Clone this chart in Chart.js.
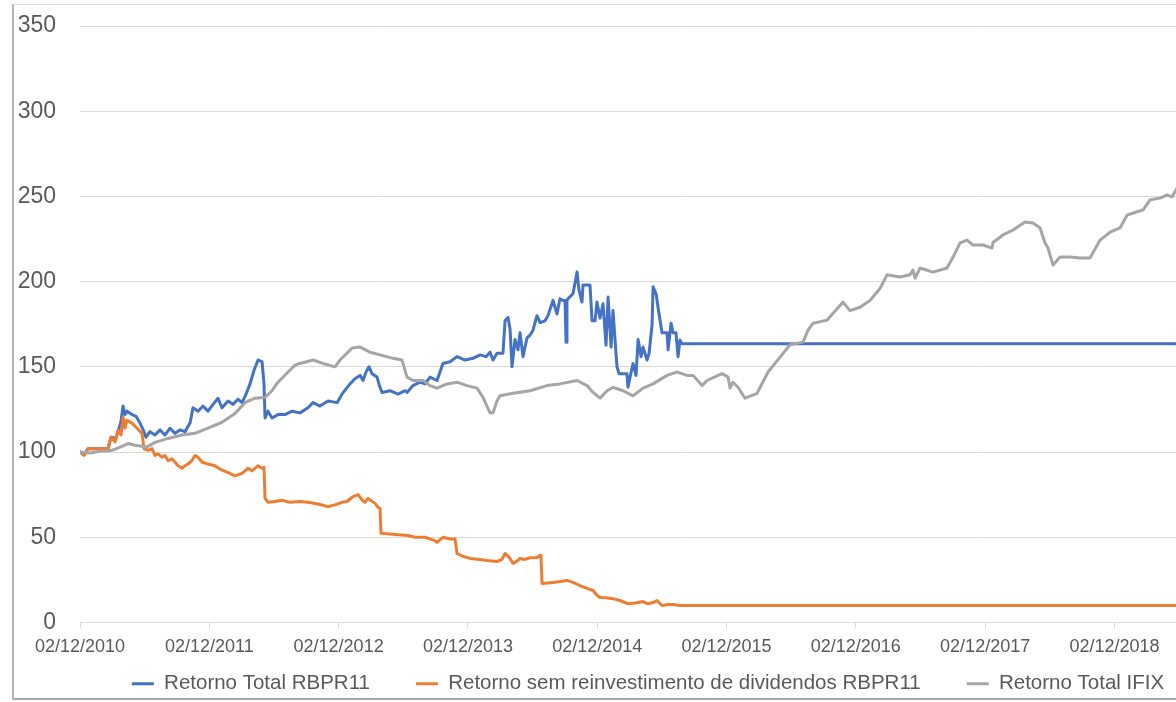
<!DOCTYPE html>
<html lang="pt-BR">
<head>
<meta charset="utf-8">
<title>Retorno RBPR11 x IFIX</title>
<script src="https://cdn.jsdelivr.net/npm/chart.js@4.4.1/dist/chart.umd.min.js"></script>
<style>
    html, body { margin: 0; padding: 0; background: #fff; overflow: hidden; }
    body { width: 1176px; height: 702px; position: relative; }
    #moldura {
        position: absolute; left: 12px; top: 4px; width: 1300px; height: 693px;
        border-left: 2px solid #b4b4b4; border-top: 1px solid #dcdcdc; border-bottom: 2px solid #a8a8a8;
    }
    #grafico { position: absolute; left: 15px; top: 5px; }
</style>
</head>
<body>
<div id="moldura"></div>
<canvas id="grafico" width="1266" height="734"></canvas>
<script>
// rótulos do eixo X (um por ano, a partir de 02/12/2010)
const rotulosX = ['02/12/2010', '02/12/2011', '02/12/2012', '02/12/2013', '02/12/2014',
    '02/12/2015', '02/12/2016', '02/12/2017', '02/12/2018'];

// tempo em anos desde 02/12/2010
const tempoRbpr = [0, .031, .062, .217, .240, .278, .294, .317, .333, .348,
    .363, .402, .433, .464, .495, .510, .541, .580, .619, .657,
    .696, .735, .773, .812, .851, .874, .913, .951, .990, 1.029,
    1.067, 1.098, 1.145, 1.183, 1.222, 1.253, 1.284, 1.315, 1.346, 1.377,
    1.408, 1.423, 1.431, 1.454, 1.485, 1.531, 1.585, 1.640, 1.701, 1.763,
    1.802, 1.856, 1.918, 1.988, 2.026, 2.088, 2.127, 2.166, 2.189, 2.212,
    2.235, 2.258, 2.297, 2.320, 2.336, 2.398, 2.459, 2.514, 2.529, 2.575,
    2.630, 2.668, 2.707, 2.761, 2.807, 2.862, 2.916, 2.978, 3.039, 3.094,
    3.140, 3.171, 3.194, 3.225, 3.271, 3.287, 3.310, 3.326, 3.341, 3.364,
    3.387, 3.403, 3.426, 3.457, 3.480, 3.503, 3.534, 3.558, 3.596, 3.619,
    3.658, 3.689, 3.712, 3.735, 3.751, 3.759, 3.766, 3.774, 3.813, 3.844,
    3.859, 3.882, 3.890, 3.944, 3.960, 3.983, 3.998, 4.022, 4.045, 4.068,
    4.084, 4.107, 4.122, 4.138, 4.153, 4.169, 4.230, 4.238, 4.254, 4.277,
    4.300, 4.316, 4.339, 4.354, 4.385, 4.401, 4.424, 4.432, 4.455, 4.470,
    4.501, 4.540, 4.548, 4.571, 4.586, 4.609, 4.625, 4.640, 4.656, 8.5];
const retornoTotalRbpr = [100, 98.5, 102, 102, 108.7, 108, 112, 118, 127, 122,
    124, 122, 121, 117, 112, 108.7, 112, 110, 113, 110,
    114, 111, 113, 112, 117, 126, 124, 127, 124, 128,
    131.6, 126, 130, 128, 131, 129, 134, 140, 148, 154,
    153, 140, 120, 124, 120, 122, 122, 124, 123, 126,
    129, 127, 130, 129, 134, 140, 143, 145, 142, 147,
    150, 146, 144, 138, 135, 136, 134, 136, 135, 139,
    141, 140, 144, 142, 152, 153, 156, 154, 155, 157,
    156, 158.6, 154, 158, 158, 177, 179, 172, 150, 166,
    160, 170, 156, 167, 168.6, 171.5, 180, 176, 177, 180,
    189, 181, 190, 189, 189, 164.5, 189, 190, 193, 205.6,
    195, 188, 198, 198, 177, 177, 188, 178.6, 187, 162.7,
    191, 161.6, 183, 165.7, 150, 146, 146, 138, 144, 152,
    145, 166, 156, 161.6, 154, 158, 174.5, 197, 193, 185,
    170, 170, 160, 175.6, 170, 170, 156, 165.7, 163.5, 163.5];

const tempoSemReinv = [0, .031, .062, .217, .240, .271, .294, .317, .333, .348,
    .363, .402, .441, .480, .495, .526, .557, .580, .603, .634,
    .657, .681, .712, .735, .758, .789, .812, .835, .866, .889,
    .913, .944, .990, 1.044, 1.083, 1.145, 1.199, 1.253, 1.276, 1.299,
    1.330, 1.377, 1.408, 1.423, 1.431, 1.454, 1.508, 1.562, 1.624, 1.701,
    1.763, 1.841, 1.918, 1.972, 2.026, 2.065, 2.104, 2.150, 2.181, 2.204,
    2.227, 2.282, 2.305, 2.320, 2.328, 2.436, 2.537, 2.591, 2.668, 2.746,
    2.761, 2.807, 2.862, 2.900, 2.916, 2.954, 3.016, 3.094, 3.148, 3.225,
    3.264, 3.287, 3.310, 3.326, 3.349, 3.380, 3.403, 3.442, 3.480, 3.534,
    3.558, 3.565, 3.573, 3.658, 3.712, 3.766, 3.813, 3.867, 3.921, 3.968,
    3.998, 4.022, 4.068, 4.122, 4.176, 4.238, 4.292, 4.354, 4.393, 4.432,
    4.462, 4.501, 4.548, 4.586, 4.640, 8.5];
const retornoSemReinv = [100, 98, 102, 102, 108.7, 106, 112.8, 110, 120.4, 114,
    118.7, 117, 114, 111, 102, 101, 102, 98, 99, 97,
    98, 95, 96, 94, 92, 90.5, 92, 93, 95, 98,
    97, 94, 93, 92, 90, 88, 86, 87.5, 89, 90.5,
    89, 92, 90.5, 91, 72.8, 70.5, 71, 71.7, 70.5, 71,
    70.5, 69.5, 68, 69, 70.5, 71, 73.5, 75, 72, 70.5,
    72.8, 69.9, 67.6, 67, 52.3, 51.7, 51, 50, 50, 48,
    47, 50, 49, 49, 40.5, 39, 37.6, 37, 36.4, 35.8,
    37, 40.5, 39, 37.6, 34.6, 36, 37.6, 37, 38, 38.2,
    39.4, 39, 22.9, 23.5, 24, 24.7, 23.5, 21.7, 20, 18.8,
    16, 14.7, 14.5, 14, 12.9, 11, 11.5, 12.3, 11, 11.7,
    12.9, 10, 10.5, 10.5, 10, 10];

const tempoIfix = [0, .077, .155, .247, .325, .371, .425, .480, .518, .580,
    .681, .789, .889, .990, 1.098, 1.199, 1.276, 1.353, 1.431, 1.485,
    1.531, 1.609, 1.663, 1.701, 1.802, 1.879, 1.972, 2.011, 2.104, 2.166,
    2.243, 2.320, 2.421, 2.490, 2.529, 2.575, 2.653, 2.707, 2.761, 2.838,
    2.916, 2.993, 3.070, 3.117, 3.171, 3.194, 3.225, 3.248, 3.349, 3.480,
    3.612, 3.712, 3.844, 3.921, 3.968, 4.022, 4.076, 4.122, 4.200, 4.277,
    4.354, 4.432, 4.540, 4.617, 4.695, 4.741, 4.811, 4.849, 4.965, 5.012,
    5.027, 5.050, 5.089, 5.143, 5.236, 5.321, 5.414, 5.491, 5.592, 5.630,
    5.669, 5.777, 5.824, 5.901, 5.955, 6.032, 6.110, 6.187, 6.241, 6.342,
    6.419, 6.442, 6.458, 6.497, 6.597, 6.705, 6.752, 6.806, 6.860, 6.906,
    6.984, 7.053, 7.061, 7.138, 7.216, 7.309, 7.370, 7.425, 7.463, 7.486,
    7.525, 7.579, 7.657, 7.734, 7.811, 7.889, 7.966, 8.043, 8.097, 8.175,
    8.221, 8.275, 8.353, 8.407, 8.445, 8.5];
const retornoTotalIfix = [100, 99.5, 100.5, 101, 103.4, 105, 104, 103.4, 103, 105.7,
    108, 110, 111, 114, 117.5, 122.7, 129, 131.6, 132, 136,
    141, 147, 151, 152, 154, 152, 150, 154, 161, 161.6,
    158.6, 157, 155, 154, 144, 142, 142, 139, 137.5, 140,
    141, 139, 137.5, 132, 123, 123, 130, 133, 134.5, 136,
    139, 140, 142, 139, 135, 131.6, 136, 138, 136, 133,
    137.5, 140, 145, 147, 145, 145, 139, 142, 146, 144,
    137.5, 141, 138, 131.6, 134.5, 147, 155.7, 163, 164.5, 171.5,
    175.6, 177.4, 181.5, 188, 183, 185, 189, 196, 204, 202.7,
    204, 206.8, 202, 208, 205.6, 208, 214.4, 222.7, 224.4, 221.5,
    221.5, 219.7, 223, 227.4, 230.3, 235, 234.4, 231.5, 222.7, 219.7,
    209.7, 214.4, 214.4, 213.9, 213.9, 224.4, 229, 231.5, 239, 241,
    242, 248, 249, 250.9, 249.7, 257];

const fonte = "'Liberation Sans', Arial, sans-serif";
const corTexto = '#595959';
const corGrade = '#D9D9D9';

// junta tempo e valor em pontos {x, y}
function pontos(tempos, valores) {
    return tempos.map((t, i) => ({ x: t, y: valores[i] }));
}

// a legenda usa um espaçamento largo entre itens; sobe a legenda para perto dos rótulos do eixo
const subirLegenda = {
    id: 'subirLegenda',
    afterLayout(chart) {
        const leg = chart.legend;
        if (!leg) return;
        leg.top -= 35;
        leg.bottom -= 35;
    }
};

// order: IFIX desenhado por cima; legenda invertida para manter a ordem original
new Chart(document.getElementById('grafico'), {
    type: 'line',
    data: {
        datasets: [{
            label: 'Retorno Total RBPR11',
            data: pontos(tempoRbpr, retornoTotalRbpr),
            borderColor: '#4472C4',
            backgroundColor: '#4472C4',
            order: 3
        }, {
            label: 'Retorno sem reinvestimento de dividendos RBPR11',
            data: pontos(tempoSemReinv, retornoSemReinv),
            borderColor: '#ED7D31',
            backgroundColor: '#ED7D31',
            order: 2
        }, {
            label: 'Retorno Total IFIX',
            data: pontos(tempoIfix, retornoTotalIfix),
            borderColor: '#A5A5A5',
            backgroundColor: '#A5A5A5',
            order: 1
        }]
    },
    options: {
        responsive: false,
        animation: false,
        layout: { padding: { left: 0, top: 21, right: 0, bottom: 0 } },
        elements: {
            line: { borderWidth: 3, tension: 0, borderJoinStyle: 'round', borderCapStyle: 'round' },
            point: { radius: 0, borderWidth: 3 }
        },
        scales: {
            x: {
                type: 'linear',
                min: 0,
                max: 9.288,
                ticks: {
                    stepSize: 1,
                    includeBounds: false,
                    autoSkip: false,
                    maxRotation: 0,
                    padding: 8,
                    color: corTexto,
                    font: { family: fonte, size: 18 },
                    callback: v => rotulosX[Math.round(v)] || ''
                },
                grid: { drawOnChartArea: false, drawTicks: true, tickLength: 6, color: corGrade },
                border: { color: corGrade },
                afterFit: s => { s.height = 40; }
            },
            y: {
                min: 0,
                max: 350,
                ticks: {
                    stepSize: 50,
                    padding: 2,
                    color: corTexto,
                    font: { family: fonte, size: 23 }
                },
                grid: { color: corGrade, drawTicks: true, tickLength: 22, tickColor: 'rgba(0,0,0,0)' },
                border: { display: false },
                afterFit: s => { s.width = 65; }
            }
        },
        plugins: {
            legend: {
                position: 'bottom',
                reverse: true,
                labels: {
                    usePointStyle: true,
                    pointStyle: 'line',
                    pointStyleWidth: 22,
                    padding: 46,
                    color: corTexto,
                    font: { family: fonte, size: 20.5 }
                }
            },
            tooltip: { enabled: false }
        }
    },
    plugins: [subirLegenda]
});
</script>
</body>
</html>
